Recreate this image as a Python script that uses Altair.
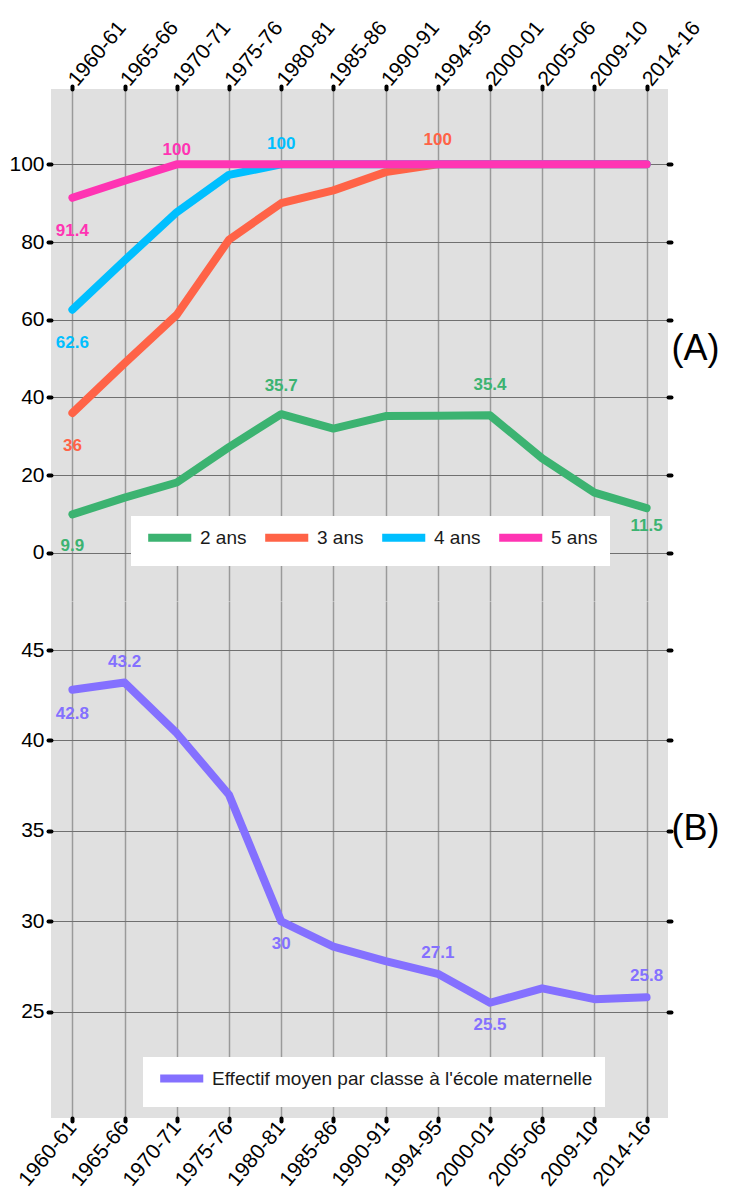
import altair as alt
import pandas as pd

FONT = "Liberation Sans"

# ---------------- data ----------------
periods = ["1960-61", "1965-66", "1970-71", "1975-76", "1980-81", "1985-86",
           "1990-91", "1994-95", "2000-01", "2005-06", "2009-10", "2014-16"]

ans2 = [9.9, 14.2, 18.1, 27.2, 35.7, 32.0, 35.2, 35.3, 35.4, 24.3, 15.5, 11.5]
ans3 = [36.0, 48.8, 61.3, 80.6, 90.0, 93.3, 98.0, 100, 100, 100, 100, 100]
ans4 = [62.6, 75.3, 87.7, 97.3, 100, 100, 100, 100, 100, 100, 100, 100]
ans5 = [91.4, 95.8, 100, 100, 100, 100, 100, 100, 100, 100, 100, 100]
effectif = [42.8, 43.2, 40.4, 37.0, 30.0, 28.6, 27.8, 27.1, 25.5, 26.3, 25.7, 25.8]

series_names = ["2 ans", "3 ans", "4 ans", "5 ans"]
eff_name = "Effectif moyen par classe à l'école maternelle"

# value labels (series, period, value)
labA_series = ["2 ans", "2 ans", "2 ans", "2 ans", "3 ans", "3 ans", "4 ans", "4 ans", "5 ans", "5 ans"]
labA_period = ["1960-61", "1980-81", "2000-01", "2014-16", "1960-61", "1994-95", "1960-61", "1980-81", "1960-61", "1970-71"]
labA_value = [9.9, 35.7, 35.4, 11.5, 36, 100, 62.6, 100, 91.4, 100]
labA_text = ["9.9", "35.7", "35.4", "11.5", "36", "100", "62.6", "100", "91.4", "100"]

labB_period = ["1960-61", "1965-66", "1980-81", "1994-95", "2000-01", "2014-16"]
labB_value = [42.8, 43.2, 30, 27.1, 25.5, 25.8]
labB_text = ["42.8", "43.2", "30", "27.1", "25.5", "25.8"]

# ---------------- styles ----------------
series_colors = ["#3CB371", "#FF6347", "#00BFFF", "#FF34B3"]
eff_color = "#8470FF"
labA_dy = [32, -28, -30, 18, 33, -24, 33, -20, 33, -14]   # label offsets in px
labB_dy = [24, -21, 23, -21, 22, -21]

dfA = pd.DataFrame({
    "period": periods * 4,
    "series": [s for s in series_names for _ in periods],
    "value": ans2 + ans3 + ans4 + ans5,
})
dfB = pd.DataFrame({"period": periods, "series": [eff_name] * len(periods), "value": effectif})
labA = pd.DataFrame({"period": labA_period, "series": labA_series, "value": labA_value,
                     "txt": labA_text, "dy": labA_dy})
labB = pd.DataFrame({"period": labB_period, "series": [eff_name] * len(labB_period),
                     "value": labB_value, "txt": labB_text, "dy": labB_dy})

tick_style = dict(labelFont=FONT, labelColor="black", tickColor="black",
                  tickSize=3, tickWidth=4, tickCap="round", domain=False)

x_scale = alt.Scale(type="point", padding=0.41)


def x_enc(orient):
    return alt.X("period:N", sort=periods, scale=x_scale, title=None,
                 axis=alt.Axis(orient=orient, labelAngle=310, labelFontSize=21,
                               labelAlign="left" if orient == "top" else "right",
                               labelBaseline="middle", labelPadding=3, grid=True,
                               gridColor="#9a9a9a", gridWidth=1.5, **tick_style))


def panel(df, lab, yscale, yvals, ttl, ttl_y, cscale, legend, orient, w, h):
    left_axis = alt.Axis(orient="left", values=yvals, grid=True, gridColor="#707070",
                         gridWidth=1, labelPadding=4, labelFontSize=21, **tick_style)
    right_axis = alt.Axis(orient="right", values=yvals, grid=False, labels=False,
                          title=ttl, titleAngle=0, titleFont=FONT, titleFontSize=36,
                          titleFontWeight="normal", titleColor="black", titleAlign="left",
                          titleBaseline="middle", titleX=3, titleY=ttl_y, **tick_style)
    lines = alt.Chart(df).mark_line(strokeWidth=8, strokeCap="round", strokeJoin="round").encode(
        x=x_enc(orient),
        y=alt.Y("value:Q", scale=yscale, title=None, axis=left_axis),
        color=alt.Color("series:N", scale=cscale, legend=legend),
    )
    texts = alt.Chart(lab).mark_text(font=FONT, fontSize=17, fontWeight="bold",
                                     dy=alt.ExprRef(expr="datum.dy")).encode(
        x=x_enc(orient),
        y=alt.Y("value:Q", scale=yscale, title=None, axis=right_axis),
        text="txt:N",
        color=alt.Color("series:N", scale=cscale, legend=None),
    )
    return alt.layer(lines, texts).properties(width=w, height=h)


leg_common = dict(orient="none", direction="horizontal", title=None, fillColor="white",
                  padding=12, symbolType="M-0.8,0L7.2,0", symbolSize=116,
                  symbolStrokeWidth=8, labelFont=FONT, labelFontSize=19,
                  labelColor="#1a1a1a", labelOffset=38, columnPadding=2, labelLimit=600)

chartA = panel(dfA, labA, alt.Scale(domain=[-12.4, 119.4], nice=False, zero=False),
               [0, 20, 40, 60, 80, 100], "(A)", 259,
               alt.Scale(domain=series_names, range=series_colors),
               alt.Legend(legendX=80, legendY=427, **leg_common), "top", 617, 512)

chartB = panel(dfB, labB, alt.Scale(domain=[19.13, 47.71], nice=False, zero=False),
               [25, 30, 35, 40, 45], "(B)", 227,
               alt.Scale(domain=[eff_name], range=[eff_color]),
               alt.Legend(legendX=92, legendY=456, **leg_common), "bottom", 617, 517)

chart = alt.vconcat(
    chartA, chartB, spacing=0,
    padding={"left": 0, "top": 8, "right": 5, "bottom": 0},
).resolve_scale(
    x="independent", y="independent", color="independent"
).configure(font=FONT).configure_view(fill="#e0e0e0", stroke="transparent", strokeWidth=0)

chart.save("out.html", embed_options={"renderer": "svg", "actions": False})
